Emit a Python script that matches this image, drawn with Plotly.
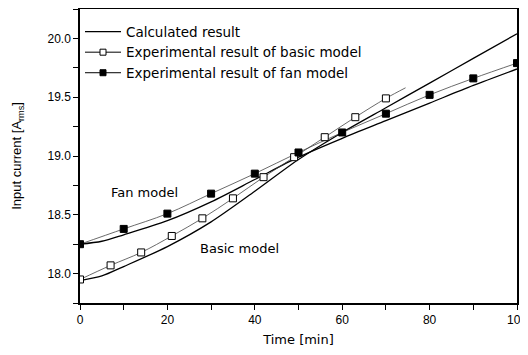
import plotly.graph_objects as go

# Experimental data
fan_t = [0, 10, 20, 30, 40, 50, 60, 70, 80, 90, 100]
fan_i = [18.25, 18.38, 18.51, 18.68, 18.85, 19.03, 19.20, 19.36, 19.52, 19.66, 19.79]

basic_t = [0, 7, 14, 21, 28, 35, 42, 49, 56, 63, 70]
basic_i = [17.95, 18.07, 18.18, 18.32, 18.47, 18.64, 18.82, 18.99, 19.16, 19.33, 19.49]
basic_tail_t = [74.5]
basic_tail_i = [19.58]

# Calculated results
calc_t = [0, 5, 10, 20, 30, 40, 50, 60, 70, 80, 90, 100]
calc_basic = [17.94, 17.98, 18.06, 18.23, 18.44, 18.70, 18.97, 19.20, 19.41, 19.62, 19.83, 20.04]
calc_fan = [18.25, 18.275, 18.33, 18.45, 18.61, 18.80, 18.99, 19.15, 19.30, 19.45, 19.60, 19.74]

FONT = "Liberation Sans, Arial, sans-serif"
WIDE = "DejaVu Sans, sans-serif"

fig = go.Figure()

fig.add_trace(go.Scatter(x=calc_t, y=calc_basic, mode="lines", name="Calculated result",
                         line=dict(color="black", width=1.3, shape="spline", smoothing=0.8),
                         legendgroup="calc", showlegend=True))
fig.add_trace(go.Scatter(x=calc_t, y=calc_fan, mode="lines", name="Calculated result",
                         line=dict(color="black", width=1.3, shape="spline", smoothing=0.8),
                         legendgroup="calc", showlegend=False))

# experimental smooth lines
fig.add_trace(go.Scatter(x=basic_t + basic_tail_t, y=basic_i + basic_tail_i, mode="lines",
                         line=dict(color="#444", width=0.8, shape="spline"),
                         showlegend=False, hoverinfo="skip"))
fig.add_trace(go.Scatter(x=fan_t, y=fan_i, mode="lines",
                         line=dict(color="#444", width=0.8, shape="spline"),
                         showlegend=False, hoverinfo="skip"))

fig.add_trace(go.Scatter(x=basic_t, y=basic_i, mode="markers",
                         name="Experimental result of basic model",
                         marker=dict(symbol="square", size=7, color="white",
                                     line=dict(width=1, color="black")),
                         showlegend=False))
fig.add_trace(go.Scatter(x=fan_t, y=fan_i, mode="markers",
                         name="Experimental result of fan model",
                         marker=dict(symbol="square", size=7, color="black",
                                     line=dict(width=1, color="black")),
                         showlegend=False))

# legend-only entries
fig.add_trace(go.Scatter(x=[None], y=[None], mode="lines+markers",
                         name="Experimental result of basic model",
                         line=dict(color="black", width=1),
                         marker=dict(symbol="square", size=6, color="white",
                                     line=dict(width=1, color="black"))))
fig.add_trace(go.Scatter(x=[None], y=[None], mode="lines+markers",
                         name="Experimental result of fan model",
                         line=dict(color="black", width=1),
                         marker=dict(symbol="square", size=6, color="black",
                                     line=dict(width=1, color="black"))))

fig.add_annotation(x=14.8, y=18.69, text="Fan model", showarrow=False,
                   font=dict(family=WIDE, size=13, color="black"))
fig.add_annotation(x=36.4, y=18.215, text="Basic model", showarrow=False,
                   font=dict(family=WIDE, size=13, color="black"))

axis_common = dict(showline=True, linecolor="black", linewidth=1.5, mirror=True,
                   ticks="outside", ticklen=5, tickwidth=1.2, tickcolor="black",
                   showgrid=False, zeroline=False, automargin=False,
                   ticklabeloverflow="allow",
                   tickfont=dict(family=FONT, size=12, color="black"))

fig.update_xaxes(range=[0, 100], dtick=20, tick0=0,
                 minor=dict(ticks="outside", dtick=10, ticklen=5, tickwidth=1.2, tickcolor="black"),
                 title=dict(text="Time [min]", font=dict(family=WIDE, size=13, color="black"), standoff=10),
                 **axis_common)
fig.update_yaxes(range=[17.75, 20.25], dtick=0.5, tick0=18.0, tickformat=".1f",
                 minor=dict(ticks="outside", dtick=0.25, ticklen=5, tickwidth=1.2, tickcolor="black"),
                 title=dict(text="Input current [A<sub>rms</sub>]", font=dict(family=FONT, size=13, color="black"), standoff=23),
                 **axis_common)

# page body has an 8px default margin, so the figure is drawn 8px in and down
fig.update_layout(
    width=520, height=339,
    margin=dict(l=72, r=11, t=1, b=44),
    paper_bgcolor="white", plot_bgcolor="white",
    showlegend=True,
    legend=dict(x=0.0, y=0.975, xanchor="left", yanchor="top",
                bgcolor="rgba(0,0,0,0)", font=dict(family=WIDE, size=13.5, color="black"),
                tracegroupgap=0, itemwidth=36),
)

fig.write_html("out.html")
